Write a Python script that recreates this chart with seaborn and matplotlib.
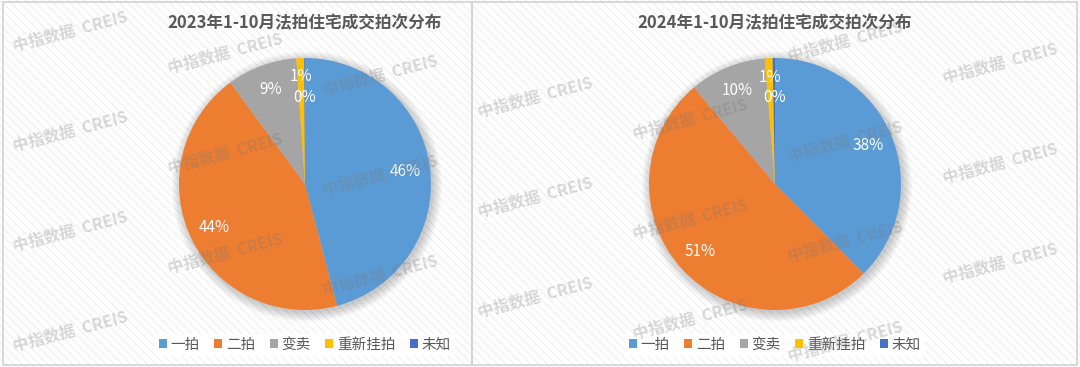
import numpy as np
import matplotlib.pyplot as plt
import seaborn as sns
from matplotlib.patches import Rectangle, Circle, Patch

sns.set_style('white')
plt.rcParams['font.family'] = ['Noto Sans CJK SC', 'DejaVu Sans']
plt.rcParams['hatch.linewidth'] = 0.6

# ==========================
# 数据
# ==========================
categories = ['一拍', '二拍', '变卖', '重新挂拍', '未知']
share_2023 = [45.9, 44.0, 9.0, 1.0, 0.1]
share_2024 = [37.6, 51.3, 9.8, 1.0, 0.3]
titles = ['2023年1-10月法拍住宅成交拍次分布', '2024年1-10月法拍住宅成交拍次分布']
watermark = '中指数据  CREIS'

# ==========================
# 样式
# ==========================
colors = sns.color_palette(['#5B9BD5', '#ED7D31', '#A5A5A5', '#FFC000', '#4472C4'])
label_dist = [0.8, 0.8, 0.8, 0.85, 0.69]
W, H = 1080, 367
text_color = '#595959'

fig = plt.figure(figsize=(10.8, 3.67), dpi=100)

# 背景斜纹 + 边框
bg = fig.add_axes([0, 0, 1, 1], zorder=-10)
bg.set_axis_off()
bg.set_xlim(0, W)
bg.set_ylim(H, 0)
bg.add_patch(Rectangle((0, 0), W, H, facecolor='white', edgecolor='#ebebeb',
                       hatch='\\\\\\\\', lw=0))
bg.add_patch(Rectangle((3, 2), 469, 363, fill=False, edgecolor='#d3d3d3', lw=1.2))
bg.add_patch(Rectangle((472, 2), 605, 363, fill=False, edgecolor='#d3d3d3', lw=1.2))

# ==========================
# 饼图
# ==========================
panels = [(305, share_2023, titles[0]), (775, share_2024, titles[1])]
cy, r = 184, 126
for cx, values, title in panels:
    ax = fig.add_axes([(cx - r) / W, (H - cy - r) / H, 2 * r / W, 2 * r / H])
    ax.set_axis_off()
    # 阴影
    for k in range(7):
        ax.add_patch(Circle((0.015, -0.02), 1 + 0.012 * k, color='black',
                            alpha=0.03, lw=0, zorder=0, clip_on=False))
    wedges, texts, autotexts = ax.pie(
        values, colors=colors, startangle=90, counterclock=False,
        autopct='%.0f%%', pctdistance=0.8, radius=1,
        wedgeprops=dict(linewidth=0),
        textprops=dict(color='white', fontsize=11))
    for w, t, d in zip(wedges, autotexts, label_dist):
        mid = np.deg2rad((w.theta1 + w.theta2) / 2)
        t.set_position((d * np.cos(mid), d * np.sin(mid)))
    ax.set_xlim(-1, 1)
    ax.set_ylim(-1, 1)

    fig.text(cx / W, 1 - 23 / H, title, ha='center', va='center',
             fontsize=12, color=text_color, fontweight='bold')

    handles = [Patch(facecolor=c, edgecolor='none') for c in colors]
    fig.legend(handles, categories, ncol=5, loc='center',
               bbox_to_anchor=(cx / W, 1 - 345 / H), frameon=True,
               handlelength=0.55, handleheight=0.55, handletextpad=0.25,
               columnspacing=1.0, fontsize=10.5, labelcolor=text_color,
               edgecolor='none', facecolor='white', framealpha=1,
               fancybox=False, borderpad=0.3)

# 水印（半透明，覆盖在图上）
for i in range(7):
    for j in range(-2, 5):
        x = 70 + 155 * i
        y = 32 + 22 * i + 100 * j
        if 22 < y < H - 22:
            fig.text(x / W, 1 - y / H, watermark, rotation=15, ha='center',
                     va='center', fontsize=11.5, color='#777777', alpha=0.28,
                     fontweight='bold', zorder=20)

fig.savefig('out.png', dpi=100)
